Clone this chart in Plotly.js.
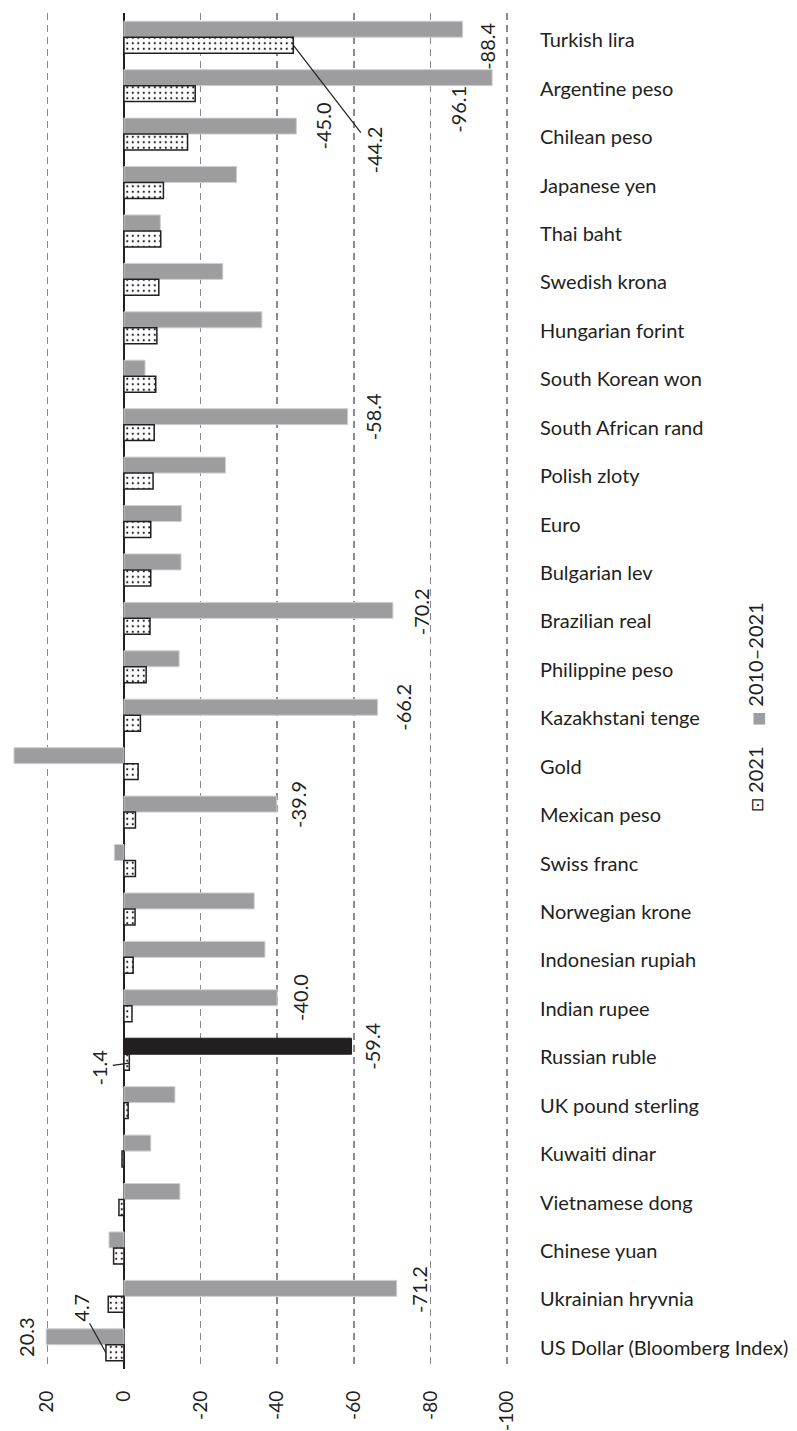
<!DOCTYPE html>
<html>
<head>
<meta charset="utf-8">
<script src="https://cdn.plot.ly/plotly-3.0.1.min.js"></script>
<style>html,body{margin:0;padding:0;background:#fff;}#chart{width:797px;height:1431px;}</style>
</head>
<body>
<div id="chart"></div>
<script>
const categories = ["Turkish lira","Argentine peso","Chilean peso","Japanese yen","Thai baht","Swedish krona","Hungarian forint","South Korean won","South African rand","Polish zloty","Euro","Bulgarian lev","Brazilian real","Philippine peso","Kazakhstani tenge","Gold","Mexican peso","Swiss franc","Norwegian krone","Indonesian rupiah","Indian rupee","Russian ruble","UK pound sterling","Kuwaiti dinar","Vietnamese dong","Chinese yuan","Ukrainian hryvnia","US Dollar (Bloomberg Index)"];
const change2010_2021 = [-88.4,-96.1,-45.0,-29.4,-9.5,-25.8,-36.0,-5.5,-58.4,-26.5,-15.0,-14.9,-70.2,-14.4,-66.2,28.7,-39.9,2.5,-34.0,-36.8,-40.0,-59.4,-13.3,-7.0,-14.6,3.9,-71.2,20.3];
const change2021 = [-44.2,-18.6,-16.6,-10.3,-9.6,-9.1,-8.6,-8.3,-7.9,-7.6,-7.0,-7.0,-6.8,-5.8,-4.3,-3.7,-3.0,-3.0,-2.9,-2.4,-2.1,-1.4,-1.1,0.5,1.3,2.7,4.1,4.7];
const tickValues = [20,0,-20,-40,-60,-80,-100];
const tickLabels = ["20","0","-20","-40","-60","-80","-100"];
const seriesNames = ["2010–2021","2021"];
const highlight = "Russian ruble";

// labels: [series index, category, xshift, yshift, arrow ax, arrow ay]
const labelled = [
  [0,"Turkish lira",25,-9],
  [0,"Argentine peso",-35,-24],
  [0,"Chilean peso",27,8],
  [0,"South African rand",25,8],
  [0,"Brazilian real",28,7],
  [0,"Kazakhstani tenge",26,8],
  [0,"Mexican peso",21,8],
  [0,"Indian rupee",23,8],
  [0,"Russian ruble",21,8],
  [0,"Ukrainian hryvnia",23,7],
  [0,"US Dollar (Bloomberg Index)",-20,8],
  [1,"Turkish lira",0,-8,81,105],
  [1,"Russian ruble",0,-9,-30,4],
  [1,"US Dollar (Bloomberg Index)",0,-8,-25,-45]
];

const ink = "#231f20";
const grey = "#9d9da0";
const FONT = "Lato, 'Noto Sans', sans-serif";

const traceGrey = {
  type: "bar", orientation: "h", name: seriesNames[0],
  y: categories, x: change2010_2021,
  marker: {color: categories.map(c => c === highlight ? ink : grey),
           line: {color: categories.map(c => c === highlight ? ink : "#cfcfd1"), width: 1}},
  hoverinfo: "x+y"
};
const traceDot = {
  type: "bar", orientation: "h", name: seriesNames[1],
  y: categories, x: change2021,
  marker: {color: "#ffffff",
           pattern: {shape: ".", fgcolor: ink, bgcolor: "#ffffff", size: 5.5, solidity: 0.12},
           line: {color: ink, width: 1.5}},
  hoverinfo: "x+y"
};

const series = [change2010_2021, change2021];
const annotations = labelled.map(l => {
  const idx = categories.indexOf(l[1]);
  const v = series[l[0]][idx];
  const a = {
    x: v, y: l[1], xref: "x", yref: "y",
    text: v.toFixed(1), textangle: -90,
    font: {family: FONT, size: 20, color: ink},
    xshift: l[2], yshift: l[3], showarrow: false
  };
  if (l.length > 4) {
    a.showarrow = true; a.ax = l[4]; a.ay = l[5];
    a.arrowhead = 0; a.arrowwidth = 1.2; a.arrowcolor = ink; a.standoff = 0;
  }
  return a;
});

annotations.push({
  xref: "paper", yref: "paper", x: 1.52, y: 0.488,
  textangle: -90, showarrow: false,
  font: {family: FONT, size: 20, color: ink},
  text: "<span style='font-family:DejaVu Sans;font-size:17px'>⊡</span> " + seriesNames[1] +
        "    <span style='color:" + grey + ";font-family:DejaVu Sans;font-size:15px'>■</span> " + seriesNames[0]
});

const layout = {
  width: 797, height: 1431,
  margin: {l: 9, r: 288, t: 13, b: 62},
  paper_bgcolor: "#fff", plot_bgcolor: "#fff",
  barmode: "group", bargap: 0.34, bargroupgap: 0,
  showlegend: false,
  font: {family: FONT, size: 20, color: ink},
  xaxis: {
    range: [30, -100.5], autorange: false, tickvals: tickValues, ticktext: tickLabels,
    tickangle: -90, ticklabelstandoff: 17,
    showgrid: true, gridcolor: "#8a8a8c", gridwidth: 1.5, griddash: "7px,5px",
    zeroline: true, zerolinecolor: ink, zerolinewidth: 2,
    showline: false, ticks: "", tickfont: {family: FONT, size: 19, color: ink}
  },
  yaxis: {
    type: "category", range: [categories.length - 0.5, -0.5], autorange: false, side: "right",
    showgrid: false, zeroline: false, showline: false, ticks: "",
    ticklabelstandoff: 30, ticklabelshift: -3,
    tickfont: {family: FONT, size: 20, color: ink}
  },
  annotations: annotations
};

Plotly.newPlot("chart", [traceGrey, traceDot], layout, {displayModeBar: false, staticPlot: true});
</script>
</body>
</html>
